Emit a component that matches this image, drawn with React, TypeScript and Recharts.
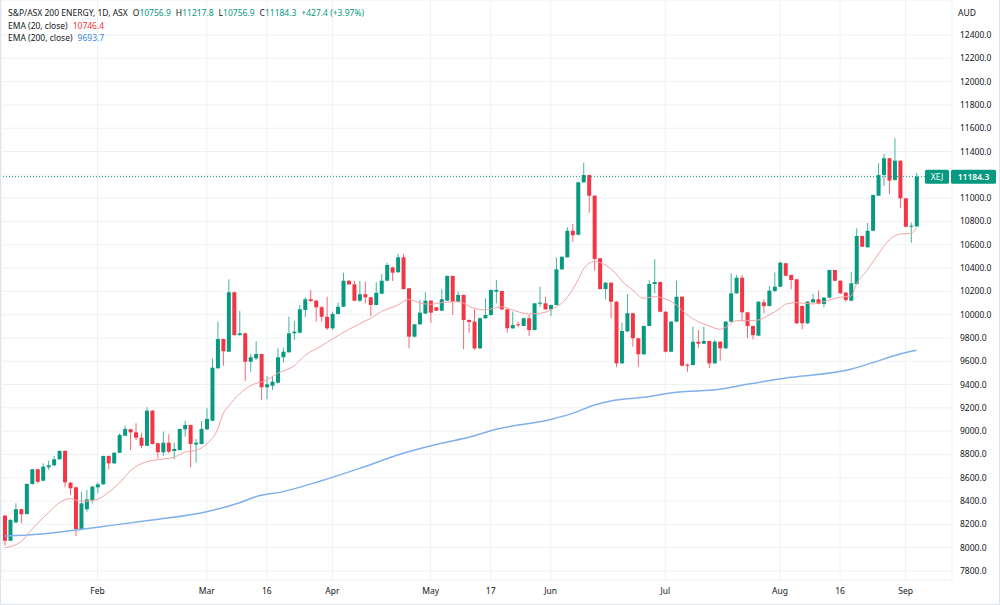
import React from "react";
import { ComposedChart, Bar, Line, XAxis, YAxis, CartesianGrid, ReferenceLine } from "recharts";

// trading days per month (2022)
const JAN = [6, 7, 10, 11, 12, 13, 14, 17, 18, 19, 20, 21, 24, 25, 27, 28, 31];
const FEB = [1, 2, 3, 4, 7, 8, 9, 10, 11, 14, 15, 16, 17, 18, 21, 22, 23, 24, 25, 28];
const MAR = [1, 2, 3, 4, 7, 8, 9, 10, 11, 14, 15, 16, 17, 18, 21, 22, 23, 24, 25, 28, 29, 30, 31];
const APR = [1, 4, 5, 6, 7, 8, 11, 12, 13, 14, 19, 20, 21, 22, 26, 27, 28, 29];
const MAY = [2, 3, 4, 5, 6, 9, 10, 11, 12, 13, 16, 17, 18, 19, 20, 23, 24, 25, 26, 27, 30, 31];
const JUN = [1, 2, 3, 6, 7, 8, 9, 10, 14, 15, 16, 17, 20, 21, 22, 23, 24, 27, 28, 29, 30];
const JUL = [1, 4, 5, 6, 7, 8, 11, 12, 13, 14, 15, 18, 19, 20, 21, 22, 25, 26, 27, 28, 29];
const AUG = [1, 2, 3, 4, 5, 8, 9, 10, 11, 12, 15, 16, 17, 18, 19, 22, 23, 24, 25, 26, 29, 30, 31];
const SEP = [1, 2, 5];

const OPEN = [
  8275, 8060, 8218, 8330, 8289, 8547, 8673, 8575, 8690, 8707,
  8759, 8830, 8558, 8518, 8160, 8330, 8409, 8518, 8544, 8787,
  8724, 8815, 8961, 9016, 8990, 8944, 8875, 9176, 8896, 8819,
  8901, 8830, 8838, 9016, 9053, 8885, 8890, 9016, 9090, 9540,
  9791, 9682, 10192, 9825, 9840, 9596, 9625, 9662, 9377, 9390,
  9416, 9634, 9677, 9840, 9845, 10040, 10132, 10120, 10063, 9982,
  9883, 10006, 10068, 10291, 10260, 10120, 10175, 10149, 10083, 10180,
  10291, 10406, 10364, 10492, 10226, 9811, 9917, 10010, 10120, 10063,
  10034, 10120, 10332, 10111, 10169, 9954, 9940, 9711, 9969, 9997,
  10197, 10203, 10046, 9883, 9917, 9903, 9969, 9868, 10094, 10097,
  10046, 10083, 10389, 10492, 10720, 10686, 11136, 11198, 11021, 10484,
  10220, 10274, 10111, 9582, 9857, 10012, 9797, 9660, 9903, 10263,
  10280, 10025, 9682, 9940, 10154, 9571, 9568, 9768, 9751, 9774,
  9582, 9768, 9711, 9940, 10183, 10317, 10020, 9903, 9820, 10106,
  10074, 10203, 10240, 10441, 10340, 10303, 10074, 9926, 10106, 10132,
  10092, 10146, 10383, 10291, 10189, 10120, 10263, 10675, 10578, 10720,
  11021, 11198, 11342, 11156, 11321, 10998, 10755, 10756.9,
];

const HIGH = [
  8282, 8246, 8381, 8336, 8550, 8676, 8678, 8724, 8747, 8787,
  8838, 8838, 8565, 8525, 8480, 8495, 8530, 8558, 8790, 8792,
  8820, 8982, 9047, 9020, 9068, 8987, 9205, 9180, 8900, 8996,
  8973, 8901, 9022, 9090, 9056, 8933, 9087, 9196, 9625, 9940,
  9795, 10303, 10195, 10031, 9845, 9662, 9774, 9665, 9474, 9468,
  9711, 9717, 9983, 9946, 10083, 10149, 10212, 10125, 10075, 10154,
  10026, 10103, 10360, 10296, 10291, 10290, 10283, 10152, 10277, 10349,
  10446, 10412, 10521, 10520, 10230, 9920, 10126, 10192, 10125, 10066,
  10218, 10335, 10335, 10197, 10172, 9960, 10046, 9975, 10140, 10215,
  10297, 10205, 10050, 10026, 9940, 9975, 9997, 10100, 10240, 10154,
  10086, 10492, 10500, 10750, 10778, 11140, 11304, 11200, 11025, 10488,
  10280, 10278, 10115, 9931, 10177, 10015, 9800, 9905, 10297, 10475,
  10285, 10030, 9945, 10291, 10158, 9580, 9897, 9868, 9897, 9778,
  9783, 9770, 9945, 10355, 10340, 10340, 10025, 9905, 10115, 10130,
  10246, 10363, 10455, 10445, 10345, 10305, 10080, 10115, 10177, 10206,
  10150, 10386, 10386, 10295, 10195, 10366, 10741, 10680, 10787, 11030,
  11299, 11379, 11345, 11513, 11325, 11002, 10789, 11217.8,
];

const LOW = [
  8017, 8055, 8210, 8209, 8285, 8540, 8553, 8570, 8667, 8700,
  8755, 8518, 8452, 8100, 8155, 8309, 8381, 8467, 8540, 8673,
  8718, 8810, 8959, 8838, 8924, 8853, 8870, 8885, 8767, 8787,
  8810, 8759, 8835, 8953, 8690, 8730, 8885, 9010, 9085, 9535,
  9562, 9678, 9822, 9818, 9431, 9510, 9611, 9268, 9274, 9353,
  9410, 9588, 9675, 9783, 9840, 9977, 10110, 9940, 9940, 9868,
  9868, 10000, 10065, 10255, 10115, 10109, 10097, 9988, 10080, 10175,
  10288, 10289, 10360, 10212, 9711, 9805, 9912, 10005, 9931, 10030,
  10030, 10115, 9997, 10105, 9703, 9845, 9697, 9705, 9965, 9990,
  10097, 10040, 9845, 9878, 9890, 9900, 9817, 9865, 10068, 10040,
  9988, 10080, 10385, 10490, 10626, 10680, 11130, 10875, 10377, 10215,
  10132, 9969, 9548, 9578, 9850, 9725, 9553, 9655, 9900, 10183,
  10020, 9675, 9678, 9935, 9555, 9510, 9565, 9711, 9748, 9540,
  9578, 9605, 9705, 9935, 10180, 9940, 9797, 9788, 9815, 10012,
  10070, 10195, 10235, 10330, 10218, 9920, 9874, 9920, 10100, 10088,
  10063, 10140, 10286, 10178, 10111, 10115, 10258, 10578, 10575, 10715,
  11018, 11104, 11035, 11150, 10913, 10750, 10617, 10756.9,
];

const CLOSE = [
  8060, 8238, 8330, 8287, 8547, 8673, 8566, 8695, 8707, 8759,
  8830, 8561, 8510, 8160, 8381, 8415, 8524, 8544, 8787, 8724,
  8815, 8967, 9019, 8990, 8944, 8875, 9176, 8890, 8819, 8901,
  8824, 8847, 9019, 9053, 8890, 8901, 9019, 9105, 9545, 9791,
  9686, 10192, 9825, 9840, 9596, 9634, 9662, 9377, 9402, 9425,
  9634, 9682, 9840, 9854, 10046, 10132, 10117, 10063, 9982, 9883,
  10006, 10068, 10291, 10260, 10120, 10175, 10149, 10083, 10188, 10291,
  10426, 10360, 10492, 10220, 9811, 9917, 10017, 10120, 10017, 10034,
  10132, 10332, 10111, 10169, 9954, 9937, 9711, 9969, 9997, 10212,
  10212, 10046, 9883, 9911, 9909, 9969, 9868, 10097, 10103, 10046,
  10083, 10389, 10497, 10720, 10681, 11136, 11198, 11021, 10478, 10220,
  10274, 10111, 9582, 9860, 10012, 9797, 9660, 9903, 10263, 10280,
  10025, 9682, 9940, 10154, 9562, 9562, 9768, 9751, 9774, 9582,
  9768, 9711, 9940, 10183, 10317, 10020, 9903, 9825, 10111, 10074,
  10206, 10240, 10446, 10334, 10297, 9926, 9926, 10111, 10132, 10092,
  10146, 10383, 10291, 10183, 10126, 10269, 10675, 10583, 10720, 11027,
  11198, 11342, 11150, 11321, 10998, 10755, 10763, 11184.3,
];

// [bar index, value] readings of the moving averages
const EMA20_PTS: [number, number][] = [
  [0, 8000], [3, 8052], [5, 8160], [8, 8300], [10, 8386], [12, 8421], [14, 8398], [17, 8415],
  [19, 8475], [21, 8555], [23, 8660], [26, 8738], [28, 8755], [31, 8776], [33, 8820], [35, 8835],
  [37, 8890], [39, 9016], [40, 9150], [41, 9215], [43, 9320], [45, 9390], [48, 9439], [50, 9497],
  [53, 9560], [55, 9650], [58, 9731], [60, 9790], [63, 9874], [67, 9969], [69, 10026], [72, 10083],
  [74, 10130], [76, 10100], [78, 10089], [80, 10103], [83, 10111], [86, 10054], [88, 10040],
  [91, 10068], [93, 10040], [96, 10006], [99, 10020], [100, 10040], [101, 10068], [102, 10097],
  [104, 10215], [105, 10300], [106, 10390], [107, 10441], [108, 10455], [110, 10426], [112, 10350],
  [113, 10290], [115, 10212], [117, 10140], [119, 10154], [121, 10135], [123, 10083], [125, 9997],
  [127, 9940], [129, 9903], [131, 9874], [132, 9891], [134, 9948], [136, 9948], [138, 9954],
  [140, 9997], [142, 10054], [143, 10090], [145, 10103], [148, 10092], [150, 10111], [153, 10149],
  [155, 10160], [156, 10263], [158, 10383], [160, 10521], [162, 10641], [164, 10692], [166, 10698],
  [167, 10746.4],
];

const EMA200_PTS: [number, number][] = [
  [0, 8100], [6, 8115], [12, 8146], [18, 8182], [27, 8238], [37, 8309], [43, 8386], [46, 8438],
  [51, 8481], [58, 8575], [65, 8681], [73, 8810], [80, 8896], [85, 8947], [90, 9016], [100, 9101],
  [104, 9153], [108, 9225], [111, 9259], [117, 9291], [123, 9334], [131, 9360], [136, 9402],
  [144, 9462], [155, 9531], [159, 9588], [164, 9662], [167, 9693.7],
];

const TICK_DATES = ["2022-02-01", "2022-03-01", "2022-03-16", "2022-04-01", "2022-05-02", "2022-05-17", "2022-06-01", "2022-07-01", "2022-08-01", "2022-08-16", "2022-09-01"];
const TICK_LABELS = ["Feb", "Mar", "16", "Apr", "May", "17", "Jun", "Jul", "Aug", "16", "Sep"];
const PRICE_TICKS = [7800, 8000, 8200, 8400, 8600, 8800, 9000, 9200, 9400, 9600, 9800, 10000, 10200, 10400, 10600, 10800, 11000, 11200, 11400, 11600, 11800, 12000, 12200, 12400];

const UP = "#089981";
const DOWN = "#f23645";
const FONT = '"Noto Sans", "Open Sans", sans-serif';

const pad2 = (n: number) => String(n).padStart(2, "0");
const MONTHS: [number, number[]][] = [[1, JAN], [2, FEB], [3, MAR], [4, APR], [5, MAY], [6, JUN], [7, JUL], [8, AUG], [9, SEP]];
const DATES = MONTHS.flatMap(([m, days]) => days.map((d) => `2022-${pad2(m)}-${pad2(d)}`));

const data: any[] = DATES.map((d, i) => ({
  d,
  open: OPEN[i],
  high: HIGH[i],
  low: LOW[i],
  close: CLOSE[i],
  range: [LOW[i], HIGH[i]],
  ema20: null,
  ema200: null,
}));
EMA20_PTS.forEach(([i, v]) => (data[i].ema20 = v));
EMA200_PTS.forEach(([i, v]) => (data[i].ema200 = v));
// empty slots = right offset after the last bar
for (let k = 1; k <= 6; k++) data.push({ d: `pad${k}` });

const lastClose = CLOSE[CLOSE.length - 1];

const Candle = (props: any) => {
  const { x, y, width, height, payload } = props;
  if (!payload || payload.open == null) return null;
  const { open, close, high, low } = payload;
  const top = Math.min(y, y + height);
  const h = Math.abs(height);
  const ppu = high === low ? 0 : h / (high - low);
  const color = close >= open ? UP : DOWN;
  const bodyTop = top + (high - Math.max(open, close)) * ppu;
  const bodyH = Math.max(1, Math.abs(close - open) * ppu);
  const cx = x + width / 2;
  return (
    <g>
      <line x1={cx} x2={cx} y1={top} y2={top + h} stroke={color} strokeWidth={1} strokeOpacity={0.75} />
      <rect x={x} y={bodyTop} width={width} height={bodyH} fill={color} />
    </g>
  );
};

// the last-price badge sits on top of the scale label closest to it
const PriceTick = ({ x, y, payload }: any) => {
  if (Math.abs(payload.value - lastClose) < 100) return <g />;
  return (
    <text x={x} y={y} dy={3} fontSize={8.5} fill="#131722" textAnchor="start" fontFamily={FONT}>
      {Number(payload.value).toFixed(1)}
    </text>
  );
};

const LastPriceLabel = ({ viewBox }: any) => {
  const right = viewBox.x + viewBox.width;
  const y = viewBox.y;
  return (
    <g fontFamily={FONT} fontSize={8.5}>
      <rect x={right - 27} y={y - 7} width={24} height={14} rx={1.5} fill={UP} />
      <text x={right - 15} y={y + 3} textAnchor="middle" fill="#fff">XEJ</text>
      <rect x={right - 1} y={y - 7} width={45} height={14} rx={1.5} fill={UP} />
      <text x={right + 21.5} y={y + 3} textAnchor="middle" fill="#fff" fontWeight={600}>{lastClose.toFixed(1)}</text>
    </g>
  );
};

export default function App() {
  return (
    <div style={{ position: "absolute", left: 0, top: 0, width: 1000, height: 605, background: "#fff", fontFamily: FONT }}>
      <ComposedChart width={1000} height={605} data={data} margin={{ top: 0, right: 0, bottom: 0, left: 2 }} barCategoryGap={0}>
        <CartesianGrid stroke="#eff1f6" strokeWidth={1} />
        <XAxis
          dataKey="d"
          ticks={TICK_DATES}
          interval={0}
          tickFormatter={(v: string) => TICK_LABELS[TICK_DATES.indexOf(v)] ?? ""}
          axisLine={false}
          tickLine={false}
          height={25}
          tick={{ fontSize: 8.5, fill: "#131722", fontFamily: FONT }}
        />
        <YAxis
          orientation="right"
          width={48}
          domain={[7722.7, 12700.4]}
          allowDataOverflow
          ticks={PRICE_TICKS}
          interval={0}
          axisLine={false}
          tickLine={false}
          tick={<PriceTick />}
        />
        <Bar dataKey="range" barSize={4} shape={<Candle />} isAnimationActive={false} />
        <Line dataKey="ema200" type="monotone" stroke="#7fb0ec" strokeWidth={1.5} dot={false} connectNulls isAnimationActive={false} />
        <Line dataKey="ema20" type="monotone" stroke="#f5a3a3" strokeWidth={1} dot={false} connectNulls isAnimationActive={false} />
        <ReferenceLine y={lastClose} stroke={UP} strokeDasharray="1 2" label={<LastPriceLabel />} />
      </ComposedChart>

      <div style={{ position: "absolute", left: 8, top: 7, fontSize: 8.5, lineHeight: "12.5px", color: "#131722", whiteSpace: "nowrap" }}>
        <div>
          S&amp;P/ASX 200 ENERGY, 1D, ASX
          <span style={{ marginLeft: 5 }}>O<span style={{ color: UP }}>10756.9</span></span>
          <span style={{ marginLeft: 5 }}>H<span style={{ color: UP }}>11217.8</span></span>
          <span style={{ marginLeft: 5 }}>L<span style={{ color: UP }}>10756.9</span></span>
          <span style={{ marginLeft: 5 }}>C<span style={{ color: UP }}>11184.3</span></span>
          <span style={{ marginLeft: 5, color: UP }}>+427.4 (+3.97%)</span>
        </div>
        <div>
          EMA (20, close)<span style={{ marginLeft: 5, color: DOWN }}>10746.4</span>
        </div>
        <div>
          EMA (200, close)<span style={{ marginLeft: 5, color: "#3d86e6" }}>9693.7</span>
        </div>
      </div>
      <div style={{ position: "absolute", left: 958, top: 7, fontSize: 8.5, color: "#131722" }}>AUD</div>
      <div style={{ position: "absolute", left: 0, top: 0, width: 1000, height: 605, boxSizing: "border-box", borderLeft: "1px solid #e0e3eb", borderRight: "1px solid #e0e3eb", borderBottom: "1px solid #e0e3eb", pointerEvents: "none" }} />
    </div>
  );
}
